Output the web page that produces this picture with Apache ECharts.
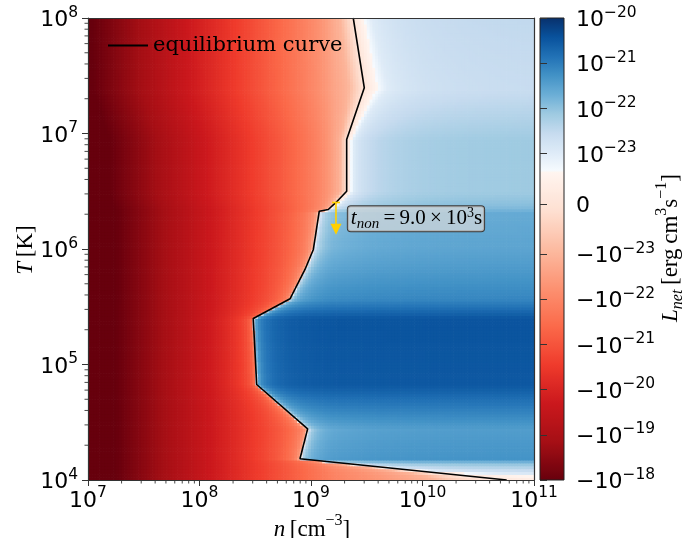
<!DOCTYPE html>
<html><head><meta charset="utf-8">
<script src="https://cdn.jsdelivr.net/npm/echarts@6/dist/echarts.min.js"></script>
<style>html,body{margin:0;padding:0;background:#fff}#c{width:696px;height:538px}</style>
</head><body><div id="c"></div>
<script>
// ---------------- data ----------------
// density columns: log10 n from 7 to 11 in steps of 0.025 (cell centres)
const logNStart = 7, logNStep = 0.025;
// heating term per density column, log10 [erg cm^3 s^-1]
const heatingLog = [
-17.525,-17.575,-17.625,-17.675,-17.725,-17.775,-17.825,-17.875,-17.925,-17.975,
-18.025,-18.075,-18.125,-18.175,-18.225,-18.275,-18.325,-18.375,-18.425,-18.475,
-18.525,-18.575,-18.625,-18.675,-18.725,-18.775,-18.825,-18.875,-18.925,-18.975,
-19.025,-19.075,-19.125,-19.175,-19.225,-19.275,-19.325,-19.375,-19.425,-19.475,
-19.525,-19.575,-19.625,-19.675,-19.725,-19.775,-19.825,-19.875,-19.925,-19.975,
-20.025,-20.075,-20.125,-20.175,-20.225,-20.275,-20.325,-20.375,-20.425,-20.475,
-20.525,-20.575,-20.625,-20.675,-20.725,-20.775,-20.825,-20.875,-20.925,-20.975,
-21.025,-21.075,-21.125,-21.175,-21.225,-21.275,-21.325,-21.375,-21.425,-21.475,
-21.525,-21.575,-21.625,-21.675,-21.725,-21.775,-21.825,-21.875,-21.9125,-21.9375,
-21.9625,-21.9875,-22.0125,-22.0375,-22.0625,-22.0875,-22.1125,-22.1375,-22.1625,-22.1875,
-22.2125,-22.2375,-22.2625,-22.2875,-22.3125,-22.3375,-22.3625,-22.3875,-22.4125,-22.4375,
-22.4625,-22.4875,-22.5125,-22.5375,-22.5625,-22.5875,-22.6125,-22.6375,-22.6625,-22.6875,
-22.7125,-22.7375,-22.7625,-22.7875,-22.8125,-22.8375,-22.8625,-22.8875,-22.9125,-22.9375,
-22.9625,-22.9875,-23.0125,-23.0375,-23.0625,-23.0875,-23.1125,-23.1375,-23.1625,-23.1875,
-23.2125,-23.2375,-23.2625,-23.2875,-23.3125,-23.3375,-23.3625,-23.3875,-23.4125,-23.4375,
-23.4625,-23.4875,-23.5125,-23.5375,-23.5625,-23.5875,-23.6125,-23.6375,-23.6625,-23.6875];
// temperature rows: log10 T from 4 to 8 in steps of 0.025 (cell centres)
const logTStart = 4, logTStep = 0.025;
// cooling term per temperature row, log10 [erg cm^3 s^-1]
const coolingLog = [
-23.25,-23.08,-22.83,-22.57,-22.32,-22.07,-21.73,-21.30,-21.32,-21.33,
-21.34,-21.36,-21.37,-21.38,-21.40,-21.41,-21.42,-21.44,-21.39,-21.33,
-21.27,-21.22,-21.16,-21.10,-21.04,-20.98,-20.92,-20.86,-20.80,-20.74,
-20.68,-20.62,-20.56,-20.52,-20.52,-20.52,-20.52,-20.51,-20.51,-20.51,
-20.51,-20.50,-20.50,-20.50,-20.50,-20.49,-20.49,-20.49,-20.48,-20.48,
-20.48,-20.48,-20.47,-20.47,-20.47,-20.47,-20.52,-20.62,-20.71,-20.81,
-20.91,-21.00,-21.10,-21.14,-21.17,-21.20,-21.22,-21.25,-21.28,-21.30,
-21.33,-21.35,-21.38,-21.40,-21.43,-21.45,-21.47,-21.49,-21.51,-21.53,
-21.55,-21.56,-21.56,-21.57,-21.58,-21.59,-21.60,-21.60,-21.61,-21.62,
-21.63,-21.64,-21.64,-21.76,-21.876,-21.947,-21.993,-22.038,-22.073,-22.108,
-22.13,-22.13,-22.13,-22.13,-22.13,-22.13,-22.13,-22.13,-22.13,-22.13,
-22.13,-22.13,-22.13,-22.13,-22.13,-22.13,-22.13,-22.13,-22.150,-22.175,
-22.201,-22.226,-22.251,-22.276,-22.302,-22.327,-22.352,-22.378,-22.403,-22.428,
-22.454,-22.479,-22.504,-22.529,-22.555,-22.580,-22.580,-22.577,-22.573,-22.570,
-22.566,-22.563,-22.559,-22.556,-22.552,-22.549,-22.545,-22.542,-22.538,-22.535,
-22.531,-22.528,-22.524,-22.521,-22.517,-22.514,-22.510,-22.507,-22.503,-22.500];
// strength of the heating term per temperature row, log10 (0 = full strength)
const heatingScaleLog = [
0,0,0,0,0,0,0,0,0,0, 0,0,0,0,0,0,0,0,0,0, 0,0,0,0,0,0,0,0,0,0, 0,0,0,0,0,0,0,0,0,0,
0,0,0,0,0,0,0,0,0,0, 0,0,0,0,0,0,0,0,0,0, 0,0,0,0,0,0,0,0,0,0, 0,0,0,0,0,0,0,0,0,0,
0,0,0,0,0,0,0,0,0,0,
0,0,0,0,-0.02,-0.04,-0.06,-0.08,-0.09,-0.10,
-0.11,-0.11,-0.11,-0.11,-0.11,-0.11,-0.11,-0.11,-0.11,-0.11,
-0.11,-0.11,-0.11,-0.11,-0.11,-0.11,-0.11,-0.11,-0.125,-0.141,
-0.158,-0.174,-0.191,-0.207,-0.224,-0.240,-0.256,-0.273,-0.290,-0.306,
-0.323,-0.339,-0.355,-0.372,-0.389,-0.405,-0.405,-0.406,-0.406,-0.407,
-0.407,-0.408,-0.408,-0.409,-0.409,-0.411,-0.411,-0.412,-0.412,-0.413,
-0.413,-0.414,-0.414,-0.415,-0.415,-0.417,-0.417,-0.418,-0.418,-0.419];
// equilibrium curve (n [cm^-3], T [K])
const curveN = [2.393e9,3.006e9,2.089e9,2.089e9,1.675e9,1.429e9,1.186e9,1.050e9,8.831e8,6.486e8,3.034e8,3.258e8,9.333e8,7.962e8,5.689e10];
const curveT = [1.0e8,2.489e7,8.872e6,3.162e6,2.529e6,2.198e6,2.123e6,9.908e5,6.653e5,3.707e5,2.500e5,6.714e4,2.773e4,1.528e4,1.0e4];
// annotation arrow: starts on the curve, drops over t_non
const arrowN = 1.675e9, arrowT0 = 2.529e6, arrowT1 = 1.33e6;
const labelN = 2.14e9, labelT = 1.83e6;
const tnonMantissa = '9.0', tnonExp = '3';
// axis ticks
const xMajor = [1e7,1e8,1e9,1e10,1e11];
const yMajor = [1e4,1e5,1e6,1e7,1e8];
const minorMult = [2,3,4,5,6,7,8,9];
const cbarTicks = [1e-20,1e-21,1e-22,1e-23,0,-1e-23,-1e-22,-1e-21,-1e-20,-1e-19,-1e-18];
const cbarMin = -1e-18, cbarMax = 1e-20;

// ---------------- colour scale (symlog, Reds_r + Blues) ----------------
const LINTHRESH = 1e-23, LINSCALE = 1 / (1 - 1 / 10);
function symlog(v) {
  const a = Math.abs(v);
  if (a <= LINTHRESH) return v / LINTHRESH * LINSCALE;
  return Math.sign(v) * (LINSCALE + Math.log10(a / LINTHRESH));
}
const TMIN = symlog(cbarMin), TMAX = symlog(cbarMax);
const REDS = ['#fff5f0','#fee0d2','#fcbba1','#fc9272','#fb6a4a','#ef3b2c','#cb181d','#a50f15','#67000d'];
const BLUES = ['#f7fbff','#deebf7','#c6dbef','#9ecae1','#6baed6','#4292c6','#2171b5','#08519c','#08306b'];
function hex2rgb(h){return [parseInt(h.slice(1,3),16),parseInt(h.slice(3,5),16),parseInt(h.slice(5,7),16)];}
const REDS_RGB = REDS.map(hex2rgb), BLUES_RGB = BLUES.map(hex2rgb);
function interp(pal, s) {
  s = Math.max(0, Math.min(1, s));
  const f = s * (pal.length - 1), i = Math.min(pal.length - 2, Math.floor(f)), r = f - i;
  const a = pal[i], b = pal[i + 1];
  return 'rgb(' + Math.round(a[0] + (b[0]-a[0])*r) + ',' + Math.round(a[1] + (b[1]-a[1])*r) + ',' + Math.round(a[2] + (b[2]-a[2])*r) + ')';
}
function cmapU(u) {
  u = Math.max(0, Math.min(1, u));
  if (u < 2/3) return interp(REDS_RGB, 1 - u * 1.5);
  return interp(BLUES_RGB, (u - 2/3) * 3);
}
function colorOf(v) { return cmapU((symlog(v) - TMIN) / (TMAX - TMIN)); }

// ---------------- build cells ----------------
const cells = [];
for (let j = 0; j < coolingLog.length; j++) {
  const Tc = Math.pow(10, logTStart + (j + 0.5) * logTStep);
  const lam = Math.pow(10, coolingLog[j]);
  const g = Math.pow(10, heatingScaleLog[j]);
  for (let i = 0; i < heatingLog.length; i++) {
    const nc = Math.pow(10, logNStart + (i + 0.5) * logNStep);
    cells.push([nc, Tc, lam - g * Math.pow(10, heatingLog[i])]);
  }
}
const curveData = curveN.map((n, k) => [n, curveT[k]]);
const minorX = [], minorY = [];
for (let e = 7; e < 11; e++) minorMult.forEach(m => minorX.push([m * Math.pow(10, e)]));
for (let e = 4; e < 8; e++) minorMult.forEach(m => minorY.push([m * Math.pow(10, e)]));

// ---------------- text styles ----------------
const SANS = 'DejaVu Sans', MATH = 'Liberation Serif';
const tickRich = {
  b: {fontFamily: SANS, fontSize: 22, color: '#000', padding: [5, 0, 0, 0]},
  s: {fontFamily: SANS, fontSize: 15.5, color: '#000', verticalAlign: 'top'}
};
function sup10(v) { const e = Math.round(Math.log10(v)); return '{b|10}{s|' + e + '}'; }
const nameRich = {
  i: {fontFamily: MATH, fontStyle: 'italic', fontSize: 23, color: '#000', padding: [5, 0, 4, 0]},
  r: {fontFamily: MATH, fontSize: 23, color: '#000', padding: [5, 0, 4, 0]},
  p: {fontFamily: MATH, fontSize: 16, color: '#000', verticalAlign: 'top'},
  d: {fontFamily: MATH, fontStyle: 'italic', fontSize: 16, color: '#000', verticalAlign: 'bottom'}
};
const annRich = {
  i: {fontFamily: MATH, fontStyle: 'italic', fontSize: 21, color: '#1a1a1a', padding: [2, 0, 2, 0]},
  r: {fontFamily: MATH, fontSize: 21, color: '#1a1a1a', padding: [2, 0, 2, 0]},
  p: {fontFamily: MATH, fontSize: 14, color: '#1a1a1a', verticalAlign: 'top'},
  d: {fontFamily: MATH, fontStyle: 'italic', fontSize: 15, color: '#1a1a1a', verticalAlign: 'bottom'}
};

const spine = {show: true, lineStyle: {color: '#333', width: 1.2}};
function logAxis(extra, min, max) {
  return Object.assign({type: 'log', logBase: 10, min: min, max: max, gridIndex: 0, z: 10,
    splitLine: {show: false}, minorTick: {show: false}, minorSplitLine: {show: false}}, extra);
}
function minorTickSeries(name, data, isX) {
  return {
    type: 'custom', name: name, xAxisIndex: 0, yAxisIndex: 0, z: 10, clip: false, silent: true, data: data,
    renderItem: function (params, api) {
      const v = api.value(0);
      const p = isX ? api.coord([v, 1e4]) : api.coord([1e7, v]);
      const shape = isX ? {x1: p[0], y1: p[1], x2: p[0], y2: p[1] + 3.5} : {x1: p[0], y1: p[1], x2: p[0] - 3.5, y2: p[1]};
      return {type: 'line', shape: shape, style: {stroke: '#333', lineWidth: 0.9}};
    }
  };
}

const chart = echarts.init(document.getElementById('c'), null, {renderer: 'canvas'});
chart.setOption({
  animation: false,
  backgroundColor: '#fff',
  grid: [
    {left: 88, top: 18, width: 446, height: 462},
    {left: 540, top: 18, width: 24, height: 462}
  ],
  xAxis: [
    logAxis({position: 'bottom', axisLine: spine,
      axisTick: {show: true, inside: false, length: 6, lineStyle: {color: '#333', width: 1}},
      axisLabel: {show: true, margin: 5, formatter: sup10, rich: tickRich}}, 1e7, 1e11),
    logAxis({position: 'top', axisLine: spine, axisTick: {show: false}, axisLabel: {show: false}}, 1e7, 1e11),
    {type: 'value', gridIndex: 1, min: 0, max: 1, show: false}
  ],
  yAxis: [
    logAxis({position: 'left', axisLine: spine,
      axisTick: {show: true, inside: false, length: 6, lineStyle: {color: '#333', width: 1}},
      axisLabel: {show: true, margin: 10, formatter: sup10, rich: tickRich}}, 1e4, 1e8),
    logAxis({position: 'right', axisLine: spine, axisTick: {show: false}, axisLabel: {show: false}}, 1e4, 1e8),
    {type: 'value', gridIndex: 1, position: 'right', min: TMIN, max: TMAX, z: 10,
      splitLine: {show: false},
      axisLine: {show: false},
      axisTick: {show: true, length: 7, lineStyle: {color: '#333', width: 1}, customValues: cbarTicks.map(symlog)},
      axisLabel: {show: true, margin: 12, rich: tickRich, customValues: cbarTicks.map(symlog),
        formatter: function (t) {
          let best = 0, bd = Infinity;
          cbarTicks.forEach((v, k) => { const d = Math.abs(symlog(v) - t); if (d < bd) { bd = d; best = k; } });
          const v = cbarTicks[best];
          if (v === 0) return '{b|0}';
          const e = Math.round(Math.log10(Math.abs(v)));
          return '{b|' + (v < 0 ? '\u221210' : '10') + '}{s|\u2212' + Math.abs(e) + '}';
        }}}
  ],
  legend: {
    show: true, left: 108, top: 35, itemWidth: 40, itemHeight: 2, itemGap: 0, padding: 0,
    icon: 'rect',
    data: [{name: 'equilibrium curve', icon: 'rect', itemStyle: {color: '#000'}}],
    textStyle: {fontFamily: 'DejaVu Serif', fontSize: 21, color: '#000', padding: [0, 0, 0, 0]}
  },
  series: [
    {
      type: 'custom', name: 'L_net', xAxisIndex: 0, yAxisIndex: 0, z: 1, clip: true, progressive: 0,
      silent: true, data: cells,
      renderItem: function (params, api) {
        const n = api.value(0), T = api.value(1), v = api.value(2);
        const hn = Math.pow(10, logNStep / 2), hT = Math.pow(10, logTStep / 2);
        const p0 = api.coord([n / hn, T * hT]), p1 = api.coord([n * hn, T / hT]);
        return {type: 'rect', shape: {x: p0[0], y: p0[1], width: p1[0] - p0[0] + 0.7, height: p1[1] - p0[1] + 0.7},
          style: {fill: colorOf(v)}};
      }
    },
    {
      type: 'line', name: 'equilibrium curve', xAxisIndex: 0, yAxisIndex: 0, z: 5,
      data: curveData, symbol: 'none', showSymbol: false, clip: false,
      lineStyle: {color: '#000', width: 1.6}, itemStyle: {color: '#000'}
    },
    {
      type: 'custom', name: 'annotation', xAxisIndex: 0, yAxisIndex: 0, z: 6, clip: false, silent: true,
      data: [[arrowN, arrowT0, arrowT1, labelN, labelT]],
      renderItem: function (params, api) {
        const a = api.coord([api.value(0), api.value(1)]);
        const b = api.coord([api.value(0), api.value(2)]);
        const l = api.coord([api.value(3), api.value(4)]);
        const gold = '#ffd000';
        const head = 11;
        return {type: 'group', children: [
          {type: 'line', shape: {x1: a[0], y1: a[1], x2: b[0], y2: b[1] - head + 1}, style: {stroke: gold, lineWidth: 1.6}},
          {type: 'line', shape: {x1: a[0] - 4, y1: a[1], x2: a[0] + 4, y2: a[1]}, style: {stroke: gold, lineWidth: 1.6}},
          {type: 'polygon', shape: {points: [[b[0] - 5.5, b[1] - head], [b[0] + 5.5, b[1] - head], [b[0], b[1]]]}, style: {fill: gold}},
          {type: 'text', x: l[0], y: l[1], style: {
            text: '{i|t}{d|non}{r|\u2009=\u2009' + tnonMantissa + '\u2009\u00d7\u200910}{p|' + tnonExp + '}{r|s}',
            rich: annRich, align: 'left', verticalAlign: 'middle',
            backgroundColor: 'rgba(214,216,218,0.72)', borderColor: '#3a3a3a', borderWidth: 1, borderRadius: 3,
            padding: [0, 2, 0, 3]}}
        ]};
      }
    },
    minorTickSeries('minorX', minorX, true),
    minorTickSeries('minorY', minorY, false),
    {
      type: 'custom', name: 'colorbar', xAxisIndex: 2, yAxisIndex: 2, z: 2, silent: true, clip: false,
      data: [[0, TMIN, 1, TMAX]],
      renderItem: function (params, api) {
        const p0 = api.coord([api.value(0), api.value(3)]), p1 = api.coord([api.value(2), api.value(1)]);
        const stops = [];
        const N = 200;
        for (let k = 0; k <= N; k++) {
          const o = k / N; stops.push({offset: o, color: cmapU(1 - o)});
        }
        return {type: 'rect', shape: {x: p0[0], y: p0[1], width: p1[0] - p0[0], height: p1[1] - p0[1]},
          style: {fill: new echarts.graphic.LinearGradient(0, 0, 0, 1, stops), stroke: '#222', lineWidth: 1}};
      }
    }
  ],
  graphic: [
    {type: 'text', x: 312, y: 529, z: 20, style: {text: '{i|n}{r|\u2009[cm}{p|\u22123}{r|]}', rich: nameRich, align: 'center', verticalAlign: 'middle'}},
    {type: 'text', x: 25, y: 250, rotation: Math.PI / 2, z: 20, style: {text: '{i|T}{r|\u2009[K]}', rich: nameRich, align: 'center', verticalAlign: 'middle'}},
    {type: 'text', x: 670, y: 248, rotation: Math.PI / 2, z: 20, style: {text: '{i|L}{d|net}{r|\u2009[erg\u2009cm}{p|3}{r|s}{p|\u22121}{r|]}', rich: nameRich, align: 'center', verticalAlign: 'middle'}}
  ]
});
</script></body></html>
